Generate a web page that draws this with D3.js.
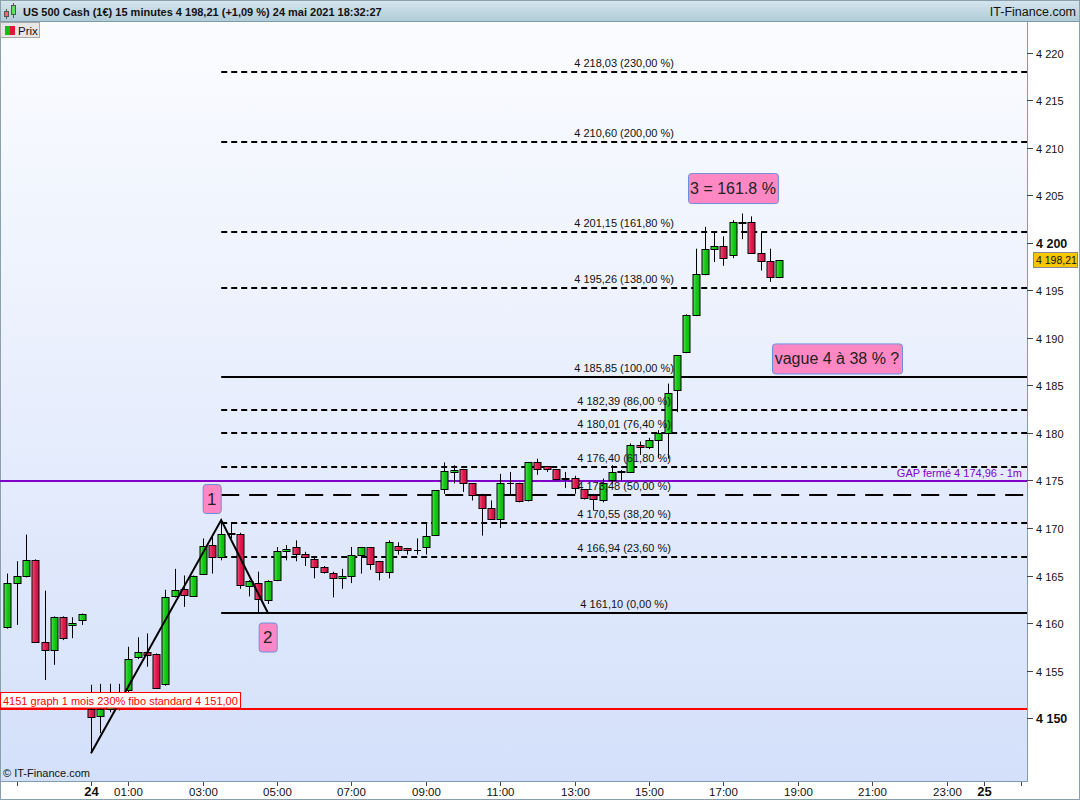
<!DOCTYPE html>
<html><head><meta charset="utf-8">
<script src="https://cdn.jsdelivr.net/npm/d3@7/dist/d3.min.js"></script>
<style>
body{margin:0;background:#fff;}
svg{display:block;font-family:"Liberation Sans",Arial,sans-serif;}
</style>
</head><body>
<svg id="c" width="1080" height="800"></svg>
<script>
// ---------------- DATA ----------------
const startTime = "2021-05-23T21:45:00";   // first 15-minute candle
const stepMinutes = 15;
const open  = [4159.6,4164.2,4164.9,4166.6,4158.0,4157.2,4160.6,4159.8,4160.3,
  4151.0,4150.2,4151.0,4152.2,4152.9,4156.4,4157.0,4156.7,4153.6,4162.8,4163.6,4162.8,4165.2,4168.2,4167.0,4169.4,
  4169.4,4163.9,4164.2,4162.4,4164.5,4167.6,4168.0,4167.3,4166.7,4165.9,4165.3,4164.7,4164.9,4167.2,4168.0,4166.5,
  4165.4,4168.1,4167.9,4167.65,4168.0,4169.3,4174.1,4175.9,4176.2,4174.7,4173.5,4172.1,4170.9,4174.7,4174.7,4172.9,
  4176.9,4176.5,4176.2,4175.2,4175.3,4174.1,4173.5,4172.9,4175.0,4175.9,4175.9,4178.7,4178.5,4179.3,4180.0,4184.5,
  4188.5,4192.4,4196.7,4199.4,4199.7,4198.7,4202.1,4202.2,4198.9,4198.1,4196.4];
const high  = [4165.2,4166.5,4169.3,4166.7,4163.4,4160.7,4160.7,4160.6,4161.0,
  4153.5,4153.6,4153.6,4153.6,4157.5,4158.5,4158.9,4156.8,4163.5,4165.7,4165.0,4165.0,4168.9,4169.2,4170.84,4170.6,
  4169.5,4164.5,4165.4,4164.5,4168.0,4168.2,4168.7,4167.5,4167.0,4166.0,4165.4,4165.7,4168.0,4168.0,4168.0,4166.5,
  4168.7,4168.5,4167.9,4168.9,4170.5,4174.0,4176.9,4176.6,4176.2,4174.7,4173.6,4172.9,4175.7,4175.9,4174.75,4176.95,
  4177.3,4176.5,4176.2,4175.9,4175.5,4174.1,4173.5,4175.2,4176.6,4176.1,4178.9,4179.1,4179.5,4180.3,4185.2,4188.2,
  4192.5,4199.4,4201.7,4201.1,4200.7,4202.4,4203.1,4202.8,4201.1,4199.4,4198.2];
const low   = [4159.4,4159.8,4164.8,4157.9,4154.0,4155.6,4158.2,4158.4,4159.8,
  4146.3,4148.4,4150.6,4150.8,4152.5,4156.2,4155.4,4153.1,4153.4,4162.7,4161.7,4162.8,4165.1,4165.2,4166.6,4168.9,
  4163.6,4162.8,4161.1,4162.0,4164.4,4166.6,4166.5,4166.0,4164.7,4165.2,4162.7,4163.6,4164.2,4165.2,4165.6,4164.5,
  4164.7,4167.2,4167.2,4167.2,4167.2,4169.2,4173.6,4174.7,4173.8,4172.9,4169.2,4170.9,4170.0,4173.5,4172.7,4172.8,
  4175.6,4175.9,4175.0,4174.2,4173.6,4173.0,4171.9,4172.7,4174.7,4174.9,4175.9,4177.7,4178.3,4177.4,4177.3,4182.2,
  4188.4,4192.3,4196.6,4198.0,4197.6,4198.4,4200.4,4198.9,4197.1,4195.9,4196.3];
const close = [4164.2,4164.9,4166.6,4158.0,4157.2,4160.6,4158.4,4160.0,4161.0,
  4150.1,4151.0,4152.3,4152.6,4156.2,4156.9,4156.6,4153.2,4162.7,4163.5,4163.0,4165.0,4168.1,4167.0,4169.4,4169.5,
  4164.0,4164.4,4162.5,4164.4,4167.6,4167.8,4167.3,4166.9,4165.9,4165.4,4164.7,4165.0,4167.2,4168.0,4166.2,4165.4,
  4168.5,4167.7,4167.7,4167.7,4169.2,4174.0,4176.0,4176.1,4174.7,4173.5,4172.1,4170.9,4174.7,4174.75,4172.8,4176.9,
  4176.2,4176.2,4175.2,4175.25,4174.2,4173.2,4173.0,4174.7,4175.9,4175.95,4178.7,4178.5,4179.3,4180.0,4184.2,4188.2,
  4192.4,4196.7,4199.4,4199.7,4198.4,4202.2,4202.2,4198.9,4198.1,4196.4,4198.21];

const fibLevels = [4218.03,4210.60,4201.15,4195.26,4185.85,4182.39,4180.01,4176.40,4173.48,4170.55,4166.94,4161.10];
const fibPercents = ["230,00","200,00","161,80","138,00","100,00","86,00","76,40","61,80","50,00","38,20","23,60","0,00"];

const waveTimes  = ["2021-05-24T00:00:00","2021-05-24T03:30:00","2021-05-24T04:45:00"];
const waveValues = [4146.3, 4170.84, 4161.10];
const waveLabels = ["1","2"];

const gapLevel = 4174.96;
const gapLabel = "GAP fermé 4 174,96 - 1m";
const supportLevel = 4151.00;
const supportLabel = "4151 graph 1 mois 230% fibo standard 4 151,00";
const note3 = "3 = 161.8 %";
const note4 = "vague 4 à 38 % ?";
const lastPrice = 4198.21;
const title = "US 500 Cash (1€) 15 minutes 4 198,21 (+1,09 %) 24 mai 2021 18:32:27";
const brand = "IT-Finance.com";
const yTicks = [4150,4155,4160,4165,4170,4175,4180,4185,4190,4195,4200,4205,4210,4215,4220];
const xTickTimes = ["2021-05-23T22:00:00","2021-05-24T00:00:00","2021-05-24T01:00:00","2021-05-24T03:00:00","2021-05-24T05:00:00",
  "2021-05-24T07:00:00","2021-05-24T09:00:00","2021-05-24T11:00:00","2021-05-24T13:00:00","2021-05-24T15:00:00",
  "2021-05-24T17:00:00","2021-05-24T19:00:00","2021-05-24T21:00:00","2021-05-24T23:00:00","2021-05-25T00:00:00","2021-05-25T01:00:00"];
const xTickLabels = ["","24","01:00","03:00","05:00","07:00","09:00","11:00","13:00","15:00","17:00","19:00","21:00","23:00","25",""];

// ---------------- LAYOUT ----------------
const W = 1080, H = 800;
const plot = {left: 0, right: 1027, top: 22, bottom: 781};
const svg = d3.select("#c");
const parse = s => new Date(s);
const t0 = parse(startTime);
const candles = open.map((o, i) => ({
  t: new Date(t0.getTime() + i * stepMinutes * 60000),
  o, h: high[i], l: low[i], c: close[i]
}));

const hourPx = 37.2;
const zeroX = 91; // pixel of 24 mai 00:00
const day0 = parse("2021-05-24T00:00:00");
const x = d3.scaleTime()
  .domain([new Date(day0.getTime() - (zeroX - plot.left) / hourPx * 3600000),
           new Date(day0.getTime() + (plot.right - zeroX) / hourPx * 3600000)])
  .range([plot.left, plot.right]);
const y = d3.scaleLinear()
  .domain([4150 + (718 - plot.bottom) / 9.5, 4150 + (718 - plot.top) / 9.5])
  .range([plot.bottom, plot.top]);

const fr = d3.formatLocale({decimal: ",", thousands: " ", grouping: [3], currency: ["", "€"]});
const f2 = fr.format(",.2f"), f0 = fr.format(",.0f");

const defs = svg.append("defs");
const bg = defs.append("linearGradient").attr("id","bg").attr("x1",0).attr("x2",0).attr("y1",0).attr("y2",1);
bg.append("stop").attr("offset","0%").attr("stop-color","#fbfcff");
bg.append("stop").attr("offset","100%").attr("stop-color","#d4e0fa");
const hg = defs.append("linearGradient").attr("id","hg").attr("x1",0).attr("x2",0).attr("y1",0).attr("y2",1);
hg.append("stop").attr("offset","0%").attr("stop-color","#d6e6ee");
hg.append("stop").attr("offset","100%").attr("stop-color","#aecbd7");
const rg = defs.append("linearGradient").attr("id","rg").attr("x1",0).attr("x2",1);
rg.append("stop").attr("offset","0%").attr("stop-color","#f25a80");
rg.append("stop").attr("offset","45%").attr("stop-color","#e01c50");
rg.append("stop").attr("offset","100%").attr("stop-color","#c8103e");
const gg = defs.append("linearGradient").attr("id","gg").attr("x1",0).attr("x2",1);
gg.append("stop").attr("offset","0%").attr("stop-color","#5ae05a");
gg.append("stop").attr("offset","45%").attr("stop-color","#14cc14");
gg.append("stop").attr("offset","100%").attr("stop-color","#0cb40c");
defs.append("clipPath").attr("id","clip").append("rect")
  .attr("x",plot.left).attr("y",plot.top).attr("width",plot.right-plot.left).attr("height",plot.bottom-plot.top);

// backgrounds
svg.append("rect").attr("width",W).attr("height",H).attr("fill","#ffffff");
svg.append("rect").attr("x",plot.left).attr("y",plot.top).attr("width",plot.right-plot.left)
  .attr("height",plot.bottom-plot.top).attr("fill","url(#bg)");

// header
svg.append("rect").attr("x",0).attr("y",0).attr("width",W).attr("height",plot.top).attr("fill","url(#hg)");
svg.append("line").attr("x1",0).attr("x2",W).attr("y1",plot.top-0.5).attr("y2",plot.top-0.5).attr("stroke","#7f9aa8");
// header icon
const ic = svg.append("g").attr("stroke","#555").attr("stroke-width",1);
ic.append("line").attr("x1",6.5).attr("x2",6.5).attr("y1",9).attr("y2",19);
ic.append("rect").attr("x",4.5).attr("y",11.5).attr("width",4).attr("height",5).attr("fill","#f06a6a");
ic.append("line").attr("x1",13.5).attr("x2",13.5).attr("y1",3).attr("y2",18);
ic.append("rect").attr("x",11.5).attr("y",5.5).attr("width",4).attr("height",9).attr("fill","#5ee05e");
svg.append("text").attr("x",23).attr("y",15.5).attr("font-size",11).attr("font-weight","bold")
  .attr("fill","#111").text(title);
svg.append("text").attr("x",1076).attr("y",15.5).attr("text-anchor","end").attr("font-size",12.5)
  .attr("fill","#111").text(brand);

// axes frame
svg.append("line").attr("x1",plot.right+0.5).attr("x2",plot.right+0.5).attr("y1",plot.top).attr("y2",plot.bottom)
  .attr("stroke","#7f9db0");
svg.append("line").attr("x1",0).attr("x2",plot.right+1).attr("y1",plot.bottom+0.5).attr("y2",plot.bottom+0.5)
  .attr("stroke","#7f9db0");
svg.append("line").attr("x1",0.5).attr("x2",0.5).attr("y1",plot.top).attr("y2",H).attr("stroke","#7f9db0");
svg.append("rect").attr("x",0.5).attr("y",0.5).attr("width",W-1).attr("height",H-1).attr("fill","none").attr("stroke","#8aa0ac");

// y axis
const yAxis = svg.append("g");
yTicks.forEach(v => {
  const yy = Math.round(y(v)) + 0.5;
  yAxis.append("line").attr("x1",plot.right).attr("x2",plot.right+6).attr("y1",yy).attr("y2",yy).attr("stroke","#444");
  const bold = v % 50 === 0;
  yAxis.append("text").attr("x",plot.right+9).attr("y",yy+4).attr("font-size",bold?12.5:11)
    .attr("font-weight",bold?"bold":"normal").attr("fill","#111").text(f0(v));
});

// x axis
const xAxis = svg.append("g");
xTickTimes.forEach((s, i) => {
  const xx = Math.round(x(parse(s))) + 0.5;
  xAxis.append("line").attr("x1",xx).attr("x2",xx).attr("y1",plot.bottom+1).attr("y2",plot.bottom+5).attr("stroke","#444");
  const lab = xTickLabels[i];
  if (lab) {
    const bold = lab.length === 2;
    xAxis.append("text").attr("x",xx).attr("y",796).attr("text-anchor","middle")
      .attr("font-size",bold?13:11.5).attr("font-weight",bold?"bold":"normal").attr("fill","#111").text(lab);
  }
});

// legend "Prix"
svg.append("rect").attr("x",0.5).attr("y",plot.top+0.5).attr("width",39).attr("height",15).attr("fill","#e6e6e6").attr("stroke","#a8a8a8");
svg.append("rect").attr("x",5).attr("y",plot.top+4).attr("width",5).attr("height",9).attr("fill","#10c010");
svg.append("rect").attr("x",10).attr("y",plot.top+4).attr("width",5).attr("height",9).attr("fill","#e0143c");
svg.append("text").attr("x",18).attr("y",plot.top+12.5).attr("font-size",11.5).attr("fill","#111").text("Prix");

const g = svg.append("g").attr("clip-path","url(#clip)");

// fib lines
const fibStart = x(parse(waveTimes[1]));
const fibMid = (fibStart + plot.right) / 2;
fibLevels.forEach((v, i) => {
  const yy = Math.round(y(v));
  const p = fibPercents[i];
  const solid = (p === "100,00" || p === "0,00");
  const longDash = p === "50,00";
  g.append("line").attr("x1",fibStart).attr("x2",plot.right).attr("y1",yy).attr("y2",yy)
    .attr("stroke","#000").attr("stroke-width",2)
    .attr("stroke-dasharray", solid ? null : (longDash ? "18,10" : "6,4"));
});

// gap line & support line
const gy = Math.round(y(gapLevel));
g.append("line").attr("x1",plot.left).attr("x2",plot.right).attr("y1",gy).attr("y2",gy).attr("stroke","#8000c8").attr("stroke-width",2);
const sy = Math.round(y(supportLevel));
g.append("line").attr("x1",plot.left).attr("x2",plot.right).attr("y1",sy).attr("y2",sy).attr("stroke","#ff0000").attr("stroke-width",2);

// candles
const bw = 6;
const cg = g.append("g");
candles.forEach(d => {
  const cx = Math.round(x(d.t)) + 0.5;
  cg.append("line").attr("x1",cx).attr("x2",cx).attr("y1",y(d.h)).attr("y2",y(d.l)).attr("stroke","#000").attr("stroke-width",1);
  const top = Math.round(y(Math.max(d.o, d.c)));
  const bot = Math.round(y(Math.min(d.o, d.c)));
  const up = d.c >= d.o;
  if (bot - top < 1) {
    cg.append("line").attr("x1",cx-3.5).attr("x2",cx+3.5).attr("y1",top+0.5).attr("y2",top+0.5).attr("stroke","#000");
  } else {
    cg.append("rect").attr("x",cx-3.5).attr("y",top+0.5).attr("width",bw+1).attr("height",bot-top)
      .attr("fill", up ? "url(#gg)" : "url(#rg)").attr("stroke","#000").attr("stroke-width",1);
  }
});

// zigzag wave
const line = d3.line().x(d => x(d[0])).y(d => y(d[1]));
g.append("path").attr("d", line(waveTimes.map((t, i) => [parse(t), waveValues[i]])))
  .attr("fill","none").attr("stroke","#000").attr("stroke-width",2);

// fib labels
fibLevels.forEach((v, i) => {
  g.append("text").attr("x",fibMid).attr("y",Math.round(y(v)) - 5).attr("text-anchor","middle")
    .attr("font-size",11).attr("fill","#111").text(f2(v) + " (" + fibPercents[i] + " %)");
});

// gap label
g.append("text").attr("x",plot.right-5).attr("y",gy-4).attr("text-anchor","end").attr("font-size",11)
  .attr("fill","#8000c8").text(gapLabel);

// support label
svg.append("rect").attr("x",0.5).attr("y",sy-16.5).attr("width",240).attr("height",15.5)
  .attr("fill","#fff").attr("stroke","#ff0000");
svg.append("text").attr("x",3).attr("y",sy-4.5).attr("font-size",11).attr("fill","#ff0000").text(supportLabel);

// pink notes
function note(cx, cyTop, w, h, txt, fs) {
  svg.append("rect").attr("x",cx - w/2 + 0.5).attr("y",cyTop + 0.5).attr("width",w).attr("height",h).attr("rx",3)
    .attr("fill","#ff88c4").attr("stroke","#6d8fdc").attr("stroke-width",1);
  svg.append("text").attr("x",cx).attr("y",cyTop + h/2 + fs*0.36).attr("text-anchor","middle")
    .attr("font-size",fs).attr("fill","#222").text(txt);
}
const p1x = x(parse(waveTimes[1])), p1y = y(waveValues[1]);
const p2x = x(parse(waveTimes[2])), p2y = y(waveValues[2]);
note(p1x - 9.5, p1y - 36, 18, 29, waveLabels[0], 17);
note(p2x, p2y + 10, 18, 29, waveLabels[1], 17);
const y161 = y(fibLevels[2]);
note(733, y161 - 59, 90, 30, note3, 16);
const y100 = y(fibLevels[4]);
note(837, y100 - 34, 130, 30, note4, 16);

// last price tag
const ly = y(lastPrice);
svg.append("rect").attr("x",plot.right+6.5).attr("y",Math.round(ly)-7.5).attr("width",44).attr("height",15)
  .attr("fill","#f7c600").attr("stroke","#8a8a8a");
svg.append("text").attr("x",plot.right+9).attr("y",Math.round(ly)+4).attr("font-size",10.5).attr("fill","#111")
  .text(f2(lastPrice));

// copyright
svg.append("text").attr("x",3).attr("y",777).attr("font-size",11).attr("fill","#111").text("© " + brand);
</script>
</body></html>
